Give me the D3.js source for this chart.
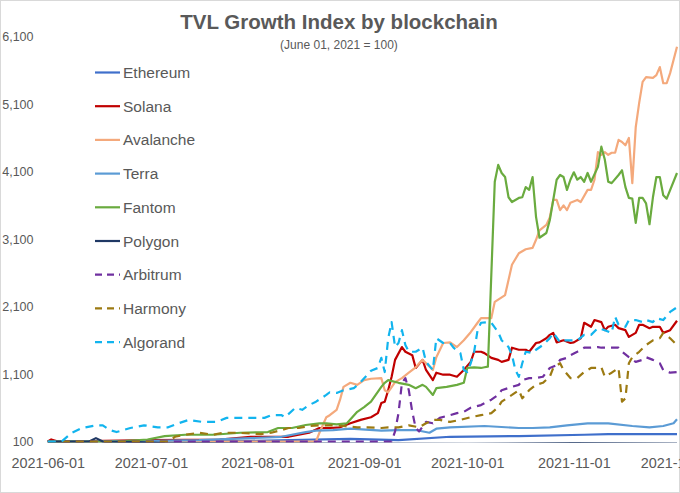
<!DOCTYPE html>
<html><head><meta charset="utf-8">
<script src="https://cdn.jsdelivr.net/npm/d3@7"></script>
<style>
html,body{margin:0;padding:0;background:#fff;}
svg{display:block;font-family:"Liberation Sans",Arial,sans-serif;}
</style></head>
<body><svg id="c" width="680" height="493"></svg>
<script>
const title = "TVL Growth Index by blockchain";
const subtitle = "(June 01, 2021 = 100)";
const yTicks = [100, 1100, 2100, 3100, 4100, 5100, 6100];
const xTicks = ["2021-06-01","2021-07-01","2021-08-01","2021-09-01","2021-10-01","2021-11-01","2021-12-01"];
const seriesNames = ["Ethereum","Solana","Avalanche","Terra","Fantom","Polygon","Arbitrum","Harmony","Algorand"];
const seriesColors = ["#3F6FCB","#C00000","#F4A97C","#5B9BD5","#6AAB3F","#1F3864","#7030A0","#9C7A12","#12B4EE"];
const seriesDashed = [false,false,false,false,false,false,true,true,true];

const ethereum = [["06-01",100],["07-01",105],["07-30",110],["08-28",140],["09-11",120],["09-26",170],["10-16",180],["11-04",200],["11-11",210],["12-01",210]];
const solana = [["06-01",100],["06-02",130],["06-04",100],["07-01",120],["07-21",130],["07-30",170],["08-05",170],["08-10",170],["08-16",230],["08-19",300],["08-22",300],["08-25",310],["08-28",370],["08-31",420],["09-03",460],["09-05",520],["09-06",670],["09-07",690],["09-08",860],["09-09",1060],["09-10",1310],["09-12",1500],["09-13",1430],["09-15",1380],["09-16",1190],["09-18",1310],["09-19",1160],["09-21",1010],["09-22",1120],["09-24",1090],["09-26",1090],["09-28",1060],["09-30",1160],["10-02",1280],["10-03",1430],["10-05",1430],["10-06",1410],["10-08",1340],["10-10",1310],["10-11",1280],["10-13",1310],["10-14",1490],["10-16",1460],["10-18",1460],["10-19",1430],["10-21",1560],["10-22",1570],["10-24",1630],["10-25",1680],["10-26",1710],["10-27",1570],["10-29",1600],["10-31",1560],["11-01",1570],["11-03",1630],["11-04",1860],["11-06",1800],["11-07",1900],["11-09",1870],["11-10",1750],["11-11",1800],["11-13",1830],["11-14",1780],["11-16",1750],["11-17",1650],["11-19",1710],["11-20",1830],["11-21",1830],["11-23",1780],["11-24",1800],["11-26",1800],["11-27",1710],["11-29",1750],["12-01",1890]];
const avalanche = [["06-01",100],["08-18",100],["08-19",230],["08-21",460],["08-22",490],["08-24",570],["08-25",720],["08-26",910],["08-28",970],["08-30",940],["09-01",1010],["09-03",1030],["09-06",1040],["09-07",860],["09-08",830],["09-10",980],["09-12",1040],["09-14",1120],["09-16",1200],["09-18",1310],["09-21",1160],["09-22",1350],["09-24",1560],["09-26",1570],["09-28",1500],["09-30",1600],["10-02",1720],["10-04",1860],["10-05",1930],["10-08",1930],["10-09",2170],["10-12",2270],["10-14",2720],["10-16",2890],["10-18",2950],["10-20",2970],["10-21",3090],["10-22",3230],["10-24",3310],["10-25",3420],["10-26",3680],["10-27",3680],["10-28",3530],["10-29",3600],["10-30",3530],["10-31",3640],["11-02",3680],["11-03",3650],["11-05",3830],["11-06",3830],["11-07",3980],["11-08",4390],["11-09",4350],["11-10",4390],["11-11",4350],["11-12",4380],["11-13",4380],["11-14",4570],["11-15",4540],["11-16",4490],["11-17",4600],["11-18",3930],["11-19",4760],["11-20",5120],["11-21",5430],["11-22",5500],["11-24",5490],["11-25",5530],["11-26",5650],["11-27",5410],["11-28",5410],["11-29",5560],["12-01",5950]];
const terra = [["06-01",100],["07-01",110],["07-15",120],["07-30",150],["08-08",170],["08-15",240],["08-18",260],["08-23",270],["08-28",290],["09-06",260],["09-11",270],["09-16",270],["09-20",230],["09-22",290],["09-26",310],["10-06",330],["10-16",300],["10-20",300],["10-25",310],["10-30",340],["11-05",370],["11-11",370],["11-18",330],["11-23",310],["11-27",330],["11-30",370],["12-01",430]];
const fantom = [["06-01",100],["06-21",100],["06-30",130],["07-05",180],["07-11",200],["07-19",200],["07-27",230],["08-04",240],["08-07",300],["08-11",300],["08-15",345],["08-19",370],["08-21",370],["08-24",355],["08-27",370],["08-30",540],["09-01",610],["09-03",690],["09-06",910],["09-07",970],["09-08",1010],["09-11",970],["09-14",940],["09-16",890],["09-18",940],["09-19",910],["09-21",790],["09-22",890],["09-25",910],["09-28",940],["09-30",970],["10-01",1190],["10-03",1200],["10-05",1190],["10-06",1200],["10-07",1210],["10-09",3950],["10-10",4200],["10-11",4080],["10-12",4020],["10-13",3720],["10-14",3650],["10-16",3710],["10-17",3720],["10-18",3870],["10-19",3830],["10-20",4020],["10-21",3430],["10-22",3120],["10-24",3190],["10-25",3380],["10-27",3980],["10-28",4050],["10-29",4020],["10-30",3830],["10-31",3980],["11-01",4090],["11-02",3980],["11-03",4020],["11-04",3950],["11-05",4080],["11-06",3950],["11-08",4170],["11-09",4470],["11-10",4280],["11-11",3950],["11-12",3930],["11-14",4050],["11-15",4120],["11-16",3870],["11-17",3710],["11-18",3700],["11-19",3340],["11-20",3710],["11-21",3710],["11-22",3630],["11-23",3320],["11-24",3720],["11-25",4020],["11-26",4020],["11-27",3750],["11-28",3700],["12-01",4080]];
const polygon = [["06-01",100],["06-13",100],["06-15",150],["06-17",100],["06-25",95],["07-05",75],["08-01",70],["09-01",70],["10-01",65],["11-01",75],["12-01",70]];
const arbitrum = [["06-01",100],["09-09",100],["09-10",250],["09-11",520],["09-12",970],["09-13",1040],["09-14",860],["09-15",540],["09-16",300],["09-17",250],["09-19",390],["09-21",370],["09-23",450],["09-26",490],["09-28",520],["09-30",540],["10-02",600],["10-05",640],["10-08",720],["10-10",790],["10-11",860],["10-14",910],["10-16",940],["10-17",1010],["10-19",1040],["10-21",1040],["10-23",1060],["10-25",1190],["10-27",1230],["10-28",1310],["10-30",1340],["10-31",1380],["11-02",1430],["11-04",1490],["11-06",1490],["11-08",1500],["11-09",1490],["11-11",1490],["11-14",1490],["11-15",1430],["11-17",1350],["11-19",1280],["11-21",1310],["11-22",1350],["11-24",1310],["11-26",1260],["11-27",1160],["11-29",1120],["12-01",1130]];
const harmony = [["06-01",100],["07-06",100],["07-08",170],["07-11",200],["07-15",230],["07-19",200],["07-22",230],["07-26",230],["08-02",210],["08-05",230],["08-08",270],["08-10",300],["08-13",300],["08-16",330],["08-19",340],["08-22",340],["08-26",330],["08-30",310],["09-02",310],["09-06",300],["09-08",310],["09-11",310],["09-14",340],["09-17",310],["09-19",370],["09-21",420],["09-23",420],["09-26",390],["09-29",420],["10-02",460],["10-05",490],["10-08",520],["10-10",610],["10-11",690],["10-14",790],["10-16",860],["10-17",740],["10-19",860],["10-21",940],["10-23",970],["10-25",1060],["10-26",1190],["10-28",1260],["10-29",1160],["10-31",1040],["11-02",1040],["11-04",1130],["11-06",1190],["11-08",1190],["11-09",1200],["11-10",1060],["11-12",1120],["11-14",1190],["11-15",690],["11-16",740],["11-17",1260],["11-18",1350],["11-20",1430],["11-22",1530],["11-24",1600],["11-26",1630],["11-27",1710],["11-29",1630],["12-01",1530]];
const algorand = [["06-01",100],["06-05",100],["06-08",230],["06-11",300],["06-15",340],["06-17",340],["06-19",270],["06-21",240],["06-25",300],["06-29",340],["07-03",310],["07-06",310],["07-09",370],["07-12",420],["07-16",390],["07-20",390],["07-23",450],["07-26",450],["07-29",450],["08-03",450],["08-05",490],["08-08",490],["08-09",460],["08-12",600],["08-14",570],["08-16",640],["08-18",690],["08-21",790],["08-22",830],["08-24",820],["08-26",860],["08-29",890],["08-31",980],["09-03",1150],["09-05",1190],["09-06",1340],["09-07",1130],["09-08",1630],["09-09",1870],["09-10",1500],["09-11",1560],["09-12",1750],["09-13",1530],["09-14",1430],["09-16",1430],["09-18",1490],["09-19",1280],["09-21",1160],["09-22",1630],["09-24",1560],["09-26",1560],["09-27",1490],["09-29",1410],["09-30",1160],["10-01",1130],["10-02",1260],["10-03",1430],["10-04",1750],["10-05",1860],["10-07",1870],["10-08",1860],["10-10",1720],["10-11",1600],["10-13",1500],["10-14",1380],["10-15",1160],["10-16",1060],["10-17",1260],["10-18",1430],["10-20",1410],["10-21",1460],["10-23",1530],["10-25",1630],["10-26",1710],["10-28",1570],["10-29",1600],["10-31",1600],["11-02",1600],["11-04",1680],["11-06",1680],["11-08",1780],["11-10",1750],["11-12",1710],["11-13",1950],["11-14",1830],["11-16",1800],["11-17",1900],["11-19",1900],["11-21",1870],["11-22",1900],["11-24",1870],["11-25",1930],["11-27",1900],["11-29",2020],["12-01",2090]];
const seriesData = [ethereum, solana, avalanche, terra, fantom, polygon, arbitrum, harmony, algorand];

const parse = d3.timeParse("%Y-%m-%d");
const svg = d3.select("#c");
const W = 680, H = 493;
const x = d3.scaleTime().domain([parse("2021-06-01"), parse("2021-12-01")]).range([47.8, 677]);
const y = d3.scaleLinear().domain([100, 6100]).range([441.5, 36.7]);

svg.append("rect").attr("x",0.5).attr("y",0.5).attr("width",W-1).attr("height",H-1)
  .attr("fill","#fff").attr("stroke","#d9d9d9").attr("stroke-width",1);

svg.append("defs").append("clipPath").attr("id","plotclip")
  .append("rect").attr("x",40).attr("y",30).attr("width",639).attr("height",442.7-30);

// title
svg.append("text").attr("x",339).attr("y",29).attr("text-anchor","middle")
  .attr("font-size",20.5).attr("font-weight","bold").attr("fill","#595959").text(title);
svg.append("text").attr("x",339).attr("y",49).attr("text-anchor","middle")
  .attr("font-size",12).attr("fill","#595959").text(subtitle);

// y axis
const yAxis = d3.axisLeft(y).tickValues(yTicks).tickSize(0).tickPadding(0).tickFormat(d3.format(","));
const gy = svg.append("g").attr("transform","translate(33.5,0)").call(yAxis);
gy.select(".domain").remove();
gy.selectAll("text").attr("font-size",12.5).attr("fill","#595959").attr("font-family","Liberation Sans, Arial, sans-serif");

// x axis
const xAxis = d3.axisBottom(x).tickValues(xTicks.map(parse)).tickSize(0).tickPadding(0).tickFormat(d3.timeFormat("%Y-%m-%d"));
const gx = svg.append("g").attr("transform","translate(0,458)").call(xAxis);
gx.select(".domain").remove();
gx.selectAll("text").attr("font-size",14.4).attr("fill","#595959").attr("font-family","Liberation Sans, Arial, sans-serif");

// lines
const line = d3.line().x(d => x(parse("2021-" + d[0]))).y(d => y(d[1]));
const plot = svg.append("g").attr("clip-path","url(#plotclip)");
seriesData.forEach((s, i) => {
  plot.append("path").datum(s).attr("d", line).attr("fill","none")
    .attr("stroke", seriesColors[i]).attr("stroke-width", 2.2)
    .attr("stroke-linejoin","round")
    .attr("stroke-dasharray", seriesDashed[i] ? "8,6" : null);
});

// legend
const leg = svg.append("g");
seriesNames.forEach((n, i) => {
  const cy = 72.5 + i * 33.7;
  leg.append("line").attr("x1",95).attr("x2",120).attr("y1",cy).attr("y2",cy)
    .attr("stroke",seriesColors[i]).attr("stroke-width",2.2)
    .attr("stroke-dasharray", seriesDashed[i] ? "7,5" : null);
  leg.append("text").attr("x",123).attr("y",cy).attr("dy","0.36em")
    .attr("font-size",15.5).attr("fill","#595959").text(n);
});
</script></body></html>
